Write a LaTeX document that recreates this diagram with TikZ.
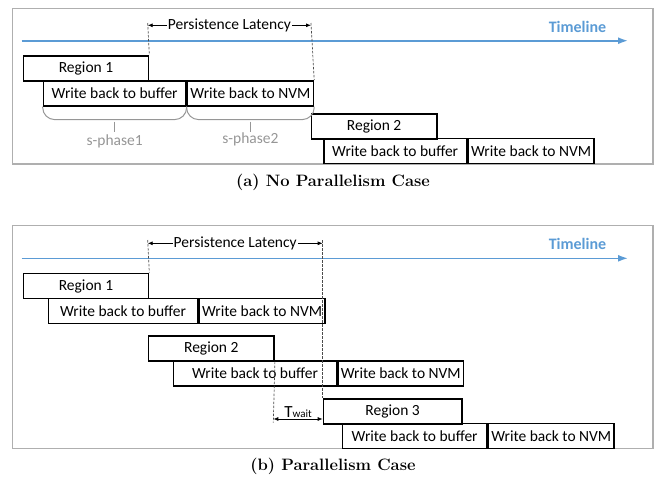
\documentclass[tikz,border=0pt]{standalone}
\usepackage{fontspec}
\setsansfont{Carlito}
\usetikzlibrary{arrows.meta}
\definecolor{tlblue}{RGB}{91,155,213}
\definecolor{framegray}{RGB}{175,175,175}
\definecolor{phasegray}{RGB}{150,150,150}
\tikzset{
  blk/.style={draw, line width=1.6pt, minimum height=25pt, inner sep=0pt, anchor=north west,
    font=\sffamily\fontsize{15.5}{17}\selectfont},
  regblk/.style={blk, font=\sffamily\fontsize{15.5}{17}\selectfont},
  guide/.style={draw=black!70, line width=0.7pt, dash pattern=on 2.5pt off 1.5pt},
  latency/.style={{Latex[length=5pt,width=4pt]}-{Latex[length=5pt,width=4pt]}, line width=0.8pt},
  latlabel/.style={fill=white, inner sep=1pt, font=\sffamily\fontsize{15.5}{17}\selectfont},
  timeline/.style={tlblue, line width=1.6pt, -{Latex[length=10pt,width=7pt]}},
  brace/.style={phasegray, line width=1pt, rounded corners=12pt},
  phase/.style={phasegray, line width=1.6pt},
  panel/.style={draw=framegray, line width=1.2pt},
  caption/.style={font=\fontsize{16.5}{18}\selectfont\bfseries}
}
\begin{document}
\begin{tikzpicture}[x=1pt,y=-1pt]
  \useasboundingbox (0,0) rectangle (670,480);
  %% (a) no parallelism
  \draw[panel] (12.3,8.3) rectangle (653,164);
  \coordinate (tla-s) at (21.7,40.7);
  \coordinate (tla-e) at (628,40.7);
  \draw[timeline] (tla-s) -- (tla-e);
  \node[tlblue, font=\sffamily\bfseries\fontsize{16}{18}\selectfont] (tla) at (577.5,27) {Timeline};
  % blocks
  \node[regblk, minimum width=125] (ra1) at (22.7,55) {Region 1};
  \node[blk, minimum width=142.3] (ba1) at (42.7,80) {Write back to buffer};
  \node[blk, minimum width=126] (na1) at (ba1.north east) {Write back to NVM};
  \node[regblk, minimum width=125.3] (ra2) at (310.7,113) {Region 2};
  \node[blk, minimum width=142.7] (ba2) at (323,137.7) {Write back to buffer};
  \node[blk, minimum width=126] (na2) at (ba2.north east) {Write back to NVM};
  % persistence latency
  \coordinate (pa-l) at (147.7,23);
  \coordinate (pa-r) at (311,23);
  \draw[guide] (pa-l) -- (ra1.north east);
  \draw[guide] (pa-r) -- (na1.north east);
  \draw[latency] ([yshift=-2.3pt]pa-l) -- node[latlabel] (pla) {Persistence Latency} ([yshift=-2.3pt]pa-r);
  % s-phases
  \draw[brace] (ba1.south west) -- ++(0,13) -| (ba1.south east);
  \draw[brace] (na1.south west) -- ++(0,13) -| (na1.south east);
  \draw[phase] ([yshift=-15pt]ba1.south) -- ++(0,10) node[below, inner sep=2pt, phasegray, font=\sffamily\fontsize{15.5}{17}\selectfont] (sp1) {s-phase1};
  \draw[phase] ([yshift=-15pt]na1.south) -- ++(0,10) node[below, inner sep=0pt, phasegray, font=\sffamily\fontsize{15.5}{17}\selectfont] (sp2) {s-phase2};
  \node[caption] (capa) at (333,182) {(a) No Parallelism Case};

  %% (b) parallelism
  \draw[panel] (12.3,225.7) rectangle (653,448.3);
  \coordinate (tlb-s) at (21.7,258.3);
  \coordinate (tlb-e) at (628,258.3);
  \draw[timeline] (tlb-s) -- (tlb-e);
  \node[tlblue, font=\sffamily\bfseries\fontsize{16}{18}\selectfont] (tlb) at (577.5,244.3) {Timeline};
  % blocks
  \node[regblk, minimum width=125] (rb1) at (22.7,272.7) {Region 1};
  \node[blk, minimum width=149] (bb1) at (47.7,297.7) {Write back to buffer};
  \node[blk, minimum width=126] (nb1) at (bb1.north east) {Write back to NVM};
  \node[regblk, minimum width=125.6] (rb2) at (147.7,335) {Region 2};
  \node[blk, minimum width=163] (bb2) at (172.7,360) {Write back to buffer};
  \node[blk, minimum width=125.3] (nb2) at (bb2.north east) {Write back to NVM};
  \node[regblk, minimum width=138.3] (rb3) at (322.7,398) {Region 3};
  \node[blk, minimum width=144.3] (bb3) at (341.7,422.7) {Write back to buffer};
  \node[blk, minimum width=125.7] (nb3) at (bb3.north east) {Write back to NVM};
  % persistence latency
  \coordinate (pb-l) at (147.7,240);
  \coordinate (pb-r) at (322.7,240);
  \draw[guide] (pb-l) -- (rb1.north east);
  \draw[guide] (pb-r) -- (rb3.north west);
  \draw[latency] ([yshift=-3.3pt]pb-l) -- node[latlabel] (plb) {Persistence Latency} ([yshift=-3.3pt]pb-r);
  % waiting time
  \coordinate (tw-b) at (273.3,422.7);
  \draw[guide] (rb2.south east) -- (tw-b);
  \coordinate (tw-l) at (273.3,419);
  \coordinate (tw-r) at (322.7,419);
  \draw[latency] (tw-l) -- (tw-r);
  \node[fill=white, inner sep=1pt, font=\sffamily\fontsize{17}{18}\selectfont] (tw) at (298,412.5) {T{\fontsize{11}{12}\selectfont wait}};
  \node[caption] (capb) at (333,466.7) {(b) Parallelism Case};
\end{tikzpicture}
\end{document}
